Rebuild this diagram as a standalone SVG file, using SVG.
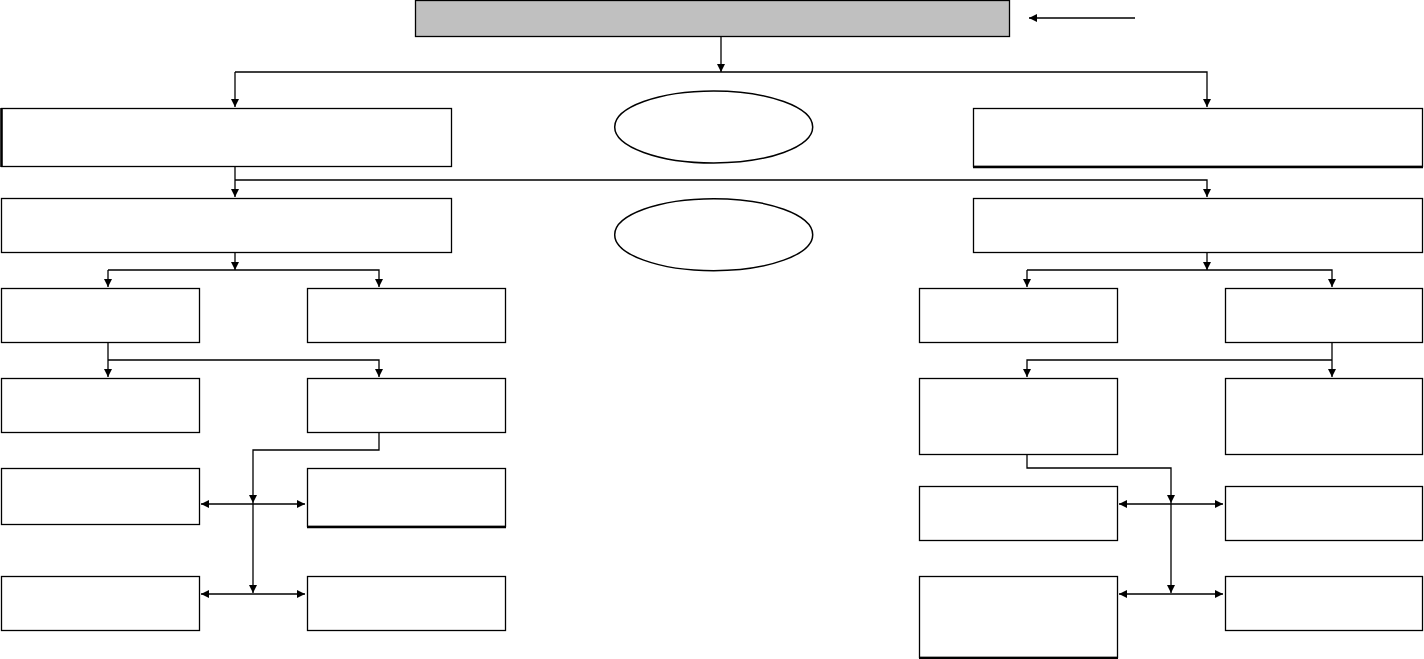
<svg xmlns="http://www.w3.org/2000/svg" width="1424" height="659" viewBox="0 0 1424 659">
<style>
.box{fill:#fff;stroke:#000;stroke-width:1.3}
.top{fill:#c0c0c0;stroke:#000;stroke-width:1.3}
.ell{fill:#fff;stroke:#000;stroke-width:1.5}
.c{fill:none;stroke:#000;stroke-width:1.3}
.a{marker-end:url(#ah)}
.d{marker-end:url(#ah);marker-start:url(#as)}
.thick{fill:none;stroke:#000;stroke-width:2.5}
</style>
<defs>
<marker id="ah" viewBox="0 0 10 10" refX="10" refY="5" markerWidth="8" markerHeight="8" orient="auto" markerUnits="userSpaceOnUse"><path d="M0,0L10,5L0,10z" fill="#000"/></marker>
<marker id="as" viewBox="0 0 10 10" refX="0" refY="5" markerWidth="8" markerHeight="8" orient="auto" markerUnits="userSpaceOnUse"><path d="M10,0L0,5L10,10z" fill="#000"/></marker>
</defs>
<rect width="1424" height="659" fill="#fff"/>
<g id="connectors">
<path class="c a" d="M1135,18H1029"/>
<path class="c a" d="M721,36V72"/>
<path class="c a" d="M235,72H1207V107"/>
<path class="c a" d="M235,72V107"/>
<path class="c a" d="M235,166V197"/>
<path class="c a" d="M235,180H1207V197"/>
<path class="c a" d="M235,252V270"/>
<path class="c a" d="M108,270V287"/>
<path class="c a" d="M108,270H379V287"/>
<path class="c a" d="M108,342V377"/>
<path class="c a" d="M108,360H379V377"/>
<path class="c a" d="M379,432V450H253V503"/>
<path class="c a" d="M253,503V593"/>
<path class="c d" d="M201,504H305"/>
<path class="c d" d="M201,594H305"/>
<path class="c a" d="M1207,252V270"/>
<path class="c a" d="M1027,270H1332V287"/>
<path class="c a" d="M1027,270V287"/>
<path class="c a" d="M1332,342V377"/>
<path class="c a" d="M1332,360H1027V377"/>
<path class="c a" d="M1027,454V468H1171V503"/>
<path class="c a" d="M1171,503V593"/>
<path class="c d" d="M1119,504H1223"/>
<path class="c d" d="M1119,594H1223"/>
</g>
<g id="n-top"><rect class="top" x="415.5" y="0.5" width="594" height="36"/></g>
<g id="n-l1"><rect class="box" x="1.5" y="108.5" width="450" height="58"/><path class="thick" d="M1.5,108V167"/></g>
<g id="n-r1"><rect class="box" x="973.5" y="108.5" width="449" height="58"/><path class="thick" d="M973,167H1423"/></g>
<g id="n-e1"><ellipse class="ell" cx="713.7" cy="127" rx="99" ry="36"/></g>
<g id="n-e2"><ellipse class="ell" cx="713.7" cy="234.7" rx="99" ry="36"/></g>
<g id="n-l2"><rect class="box" x="1.5" y="198.5" width="450" height="54"/></g>
<g id="n-r2"><rect class="box" x="973.5" y="198.5" width="449" height="54"/></g>
<g id="n-l3a"><rect class="box" x="1.5" y="288.5" width="198" height="54"/></g>
<g id="n-l3b"><rect class="box" x="307.5" y="288.5" width="198" height="54"/></g>
<g id="n-l4a"><rect class="box" x="1.5" y="378.5" width="198" height="54"/></g>
<g id="n-l4b"><rect class="box" x="307.5" y="378.5" width="198" height="54"/></g>
<g id="n-l5a"><rect class="box" x="1.5" y="468.5" width="198" height="56"/></g>
<g id="n-l5b"><rect class="box" x="307.5" y="468.5" width="198" height="58"/><path class="thick" d="M307,527H506"/></g>
<g id="n-l6a"><rect class="box" x="1.5" y="576.5" width="198" height="54"/></g>
<g id="n-l6b"><rect class="box" x="307.5" y="576.5" width="198" height="54"/></g>
<g id="n-r3a"><rect class="box" x="919.5" y="288.5" width="198" height="54"/></g>
<g id="n-r3b"><rect class="box" x="1225.5" y="288.5" width="197" height="54"/></g>
<g id="n-r4a"><rect class="box" x="919.5" y="378.5" width="198" height="76"/></g>
<g id="n-r4b"><rect class="box" x="1225.5" y="378.5" width="197" height="76"/></g>
<g id="n-r5a"><rect class="box" x="919.5" y="486.5" width="198" height="54"/></g>
<g id="n-r5b"><rect class="box" x="1225.5" y="486.5" width="197" height="54"/></g>
<g id="n-r6a"><rect class="box" x="919.5" y="576.5" width="198" height="81"/><path class="thick" d="M919,658H1118"/></g>
<g id="n-r6b"><rect class="box" x="1225.5" y="576.5" width="197" height="54"/></g>
</svg>
